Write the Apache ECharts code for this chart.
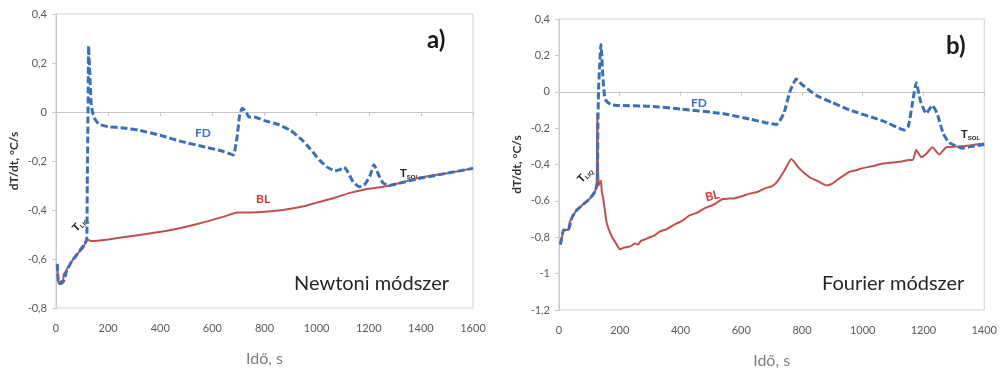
<!DOCTYPE html>
<html lang="hu">
<head>
    <meta http-equiv="Content-Type" content="text/html; charset=UTF-8"/>
    <title>dT/dt</title>
    <script src="https://cdn.jsdelivr.net/npm/echarts@6.0.0/dist/echarts.min.js"></script>
    <style>
        * { margin: 0; padding: 0; box-sizing: border-box; }
        body { background: #fff; }
        #gen { width: 1000px; height: 374px; }
    </style>
</head>
<body>
<div id="gen"></div>
<script>
    // a) Newtoni módszer
    const newtonFD = [[5,-0.62],[10,-0.70],[20,-0.70],[30,-0.69],[35,-0.66],[45,-0.64],[60,-0.61],[75,-0.59],[95,-0.56],[110,-0.54],[118,-0.52],
        [120,-0.30],[122,-0.10],[124,0.15],[125,0.27],[127,0.22],[129,0.18],[131,0.12],[133,0.08],[135,0.03],[140,0.0],[150,-0.03],[165,-0.05],
        [200,-0.06],[260,-0.065],[320,-0.075],[400,-0.095],[480,-0.12],[560,-0.14],[640,-0.16],[680,-0.175],[695,-0.10],[705,-0.01],[715,0.015],
        [730,0.0],[740,-0.02],[760,-0.02],[800,-0.035],[850,-0.05],[900,-0.075],[940,-0.11],[975,-0.15],[1010,-0.195],[1040,-0.225],[1070,-0.24],
        [1090,-0.235],[1105,-0.225],[1120,-0.245],[1140,-0.285],[1165,-0.305],[1185,-0.295],[1205,-0.26],[1220,-0.215],[1235,-0.25],[1255,-0.29],
        [1280,-0.30],[1320,-0.29],[1400,-0.27],[1500,-0.25],[1600,-0.23]];
    const newtonBL = [[5,-0.62],[8,-0.69],[12,-0.70],[20,-0.69],[27,-0.69],[30,-0.66],[38,-0.67],[42,-0.64],[50,-0.63],[60,-0.61],[73,-0.59],
        [90,-0.57],[104,-0.555],[119,-0.52],[130,-0.525],[140,-0.527],[200,-0.52],[300,-0.505],[426,-0.485],[550,-0.455],[650,-0.425],[695,-0.41],
        [750,-0.41],[871,-0.40],[950,-0.385],[1001,-0.37],[1070,-0.35],[1128,-0.33],[1190,-0.315],[1255,-0.305],[1320,-0.29],[1385,-0.27],
        [1500,-0.25],[1600,-0.23]];

    // b) Fourier módszer
    const fourierFD = [[5,-0.84],[15,-0.76],[30,-0.76],[43,-0.69],[59,-0.65],[79,-0.62],[100,-0.59],[118,-0.55],[126,-0.50],[128,-0.20],[130,0.0],
        [134,0.15],[138,0.26],[141,0.20],[143,0.12],[146,0.05],[150,-0.02],[155,-0.05],[170,-0.07],[190,-0.075],[300,-0.08],[400,-0.095],
        [539,-0.12],[628,-0.15],[680,-0.17],[716,-0.18],[740,-0.12],[760,0.0],[781,0.07],[800,0.04],[847,-0.02],[900,-0.06],[956,-0.10],
        [1066,-0.16],[1137,-0.21],[1150,-0.19],[1165,-0.05],[1176,0.05],[1190,-0.05],[1209,-0.12],[1229,-0.075],[1245,-0.12],[1265,-0.23],
        [1285,-0.28],[1328,-0.31],[1360,-0.30],[1400,-0.29]];
    const fourierBL = [[5,-0.84],[10,-0.80],[15,-0.76],[30,-0.76],[35,-0.72],[43,-0.69],[59,-0.65],[79,-0.62],[100,-0.59],[118,-0.55],[124,-0.515],
        [126,-0.12],[128,-0.40],[131,-0.515],[135,-0.50],[138,-0.49],[141,-0.55],[145,-0.58],[157,-0.72],[175,-0.80],[190,-0.84],[200,-0.866],
        [210,-0.86],[220,-0.855],[235,-0.85],[250,-0.835],[260,-0.84],[270,-0.82],[285,-0.81],[299,-0.80],[315,-0.79],[330,-0.77],[355,-0.755],
        [380,-0.73],[405,-0.71],[430,-0.68],[455,-0.665],[480,-0.64],[510,-0.62],[539,-0.59],[580,-0.585],[628,-0.56],[655,-0.55],[680,-0.53],
        [700,-0.52],[716,-0.50],[740,-0.44],[765,-0.37],[790,-0.42],[825,-0.47],[850,-0.49],[880,-0.515],[900,-0.505],[920,-0.48],[956,-0.44],
        [980,-0.43],[1000,-0.42],[1030,-0.41],[1066,-0.395],[1090,-0.39],[1120,-0.385],[1153,-0.375],[1165,-0.375],[1176,-0.32],[1193,-0.36],
        [1210,-0.34],[1229,-0.305],[1252,-0.345],[1275,-0.305],[1330,-0.30],[1400,-0.285]];

    const blue = '#3b6fb6';
    const red = '#c0504d';
    const gray = '#595959';
    const font = 'Lato, "Open Sans", sans-serif';

    const comma = v => String(Math.round(v * 10) / 10).replace('.', ',');

    function xAx(idx, max) {
        return {
            type: 'value', gridIndex: idx, min: 0, max: max, interval: 200,
            name: 'Idő, s', nameLocation: 'middle', nameGap: 43,
            nameTextStyle: {color: '#7f7f7f', fontSize: 16, fontFamily: font},
            axisLine: {lineStyle: {color: '#c8c8c8'}},
            axisTick: {show: true, length: 4, lineStyle: {color: '#c8c8c8'}},
            axisLabel: {color: gray, fontSize: 11, fontFamily: font, margin: 15, formatter: v => String(v)},
            splitLine: {show: false}
        };
    }

    function yAx(idx, min) {
        return {
            type: 'value', gridIndex: idx, min: min, max: 0.4, interval: 0.2,
            name: 'dT/dt, °C/s', nameLocation: 'middle', nameGap: 36,
            nameTextStyle: {color: '#333', fontSize: 12, fontWeight: 'bold', fontFamily: font},
            axisLine: {show: true, lineStyle: {color: '#c8c8c8'}},
            axisTick: {show: true, length: 4, lineStyle: {color: '#c8c8c8'}},
            axisLabel: {color: gray, fontSize: 11, fontFamily: font, margin: 9, formatter: comma},
            splitLine: {show: false}
        };
    }

    function line(data, idx, color, dashed) {
        return {
            type: 'line', xAxisIndex: idx, yAxisIndex: idx, data: data,
            showSymbol: false, smooth: 0.15, animation: false,
            lineStyle: dashed ? {color: color, width: 3, type: [7, 3]} : {color: color, width: 2}
        };
    }

    function txt(x, y, text, size, color, bold, rot) {
        return {
            type: 'text', x: x, y: y, rotation: rot || 0,
            style: {text: text, fontSize: size, fill: color, fontWeight: bold ? 'bold' : 'normal', fontFamily: font}
        };
    }

    function tsub(x, y, sub, rot) {
        return {
            type: 'text', x: x, y: y, rotation: rot || 0,
            style: {
                text: '{t|T}{s|' + sub + '}', fontFamily: font,
                rich: {
                    t: {fontSize: 11, fontWeight: 'bold', fill: '#262626'},
                    s: {fontSize: 6, fontWeight: 'bold', fill: '#262626', padding: [6, 0, 0, 0]}
                }
            }
        };
    }

    const chart = echarts.init(document.getElementById('gen'));
    chart.setOption({
        backgroundColor: '#fff',
        grid: [
            {left: 56, top: 14, width: 417, height: 294, show: true, borderColor: '#d0d0d0', borderWidth: 1},
            {left: 559, top: 19, width: 426, height: 292, show: true, borderColor: '#d0d0d0', borderWidth: 1}
        ],
        xAxis: [xAx(0, 1600), xAx(1, 1400)],
        yAxis: [yAx(0, -0.8), yAx(1, -1.2)],
        series: [
            line(newtonBL, 0, red, false),
            line(newtonFD, 0, blue, true),
            line(fourierBL, 1, red, false),
            line(fourierFD, 1, blue, true)
        ],
        graphic: [
            txt(427, 28, 'a)', 24, '#1a1a1a', true),
            txt(946, 34, 'b)', 24, '#1a1a1a', true),
            txt(294, 274, 'Newtoni módszer', 20, '#262626', false),
            txt(822, 274, 'Fourier módszer', 20, '#262626', false),
            txt(195, 127, 'FD', 12, blue, true),
            txt(256, 193, 'BL', 12, '#e03030', true),
            txt(691, 97, 'FD', 12, blue, true),
            txt(704, 192, 'BL', 12, '#e03030', true, 0.25),
            tsub(70, 226, 'LIQ', 0.8),
            tsub(400, 168, 'SOL'),
            tsub(575, 177, 'LIQ', 0.8),
            tsub(961, 129, 'SOL')
        ]
    });
</script>
</body>
</html>
